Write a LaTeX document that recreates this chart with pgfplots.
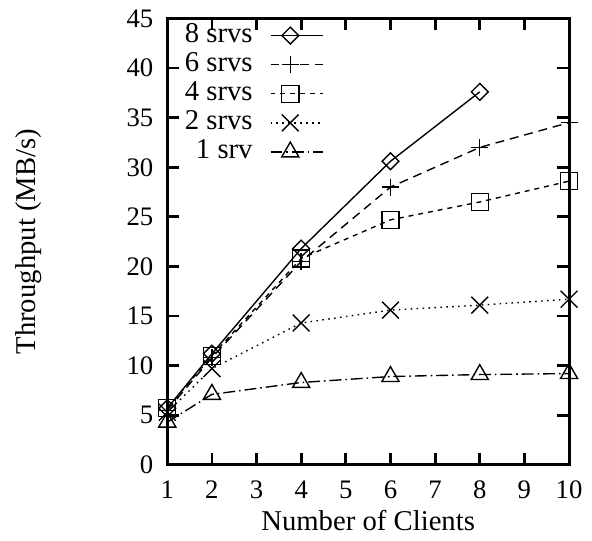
\documentclass[border=0pt]{standalone}
\usepackage{fontspec}
\setmainfont{Liberation Serif}
\usepackage{pgfplots}
\pgfplotsset{compat=1.18}
\begin{document}
\fontsize{14.5}{16}\selectfont
\begin{tikzpicture}
\begin{axis}[
    scale only axis,
    width=203pt, height=225.5pt,
    xmin=1, xmax=10, ymin=0, ymax=45,
    xtick={1,...,10}, ytick={0,5,...,45},
    tick align=inside,
    major tick length=6pt,
    axis line style={line width=1.5pt},
    tick style={line width=1.4pt, black},
    /pgf/number format/assume math mode=true,
    tick label style={font=\fontsize{13.5}{15}\selectfont},
    xticklabel style={yshift=-3pt},
    yticklabel style={xshift=-2pt},
    xlabel={Number of Clients},
    ylabel={Throughput (MB/s)},
    xlabel style={at={(axis description cs:0.5,0)}, anchor=center, yshift=-28pt},
    ylabel style={at={(axis description cs:-0.345,0.5)}, anchor=center},
    clip=false,
    every axis plot/.append style={line width=0.7pt, black},
    mark options={solid, line width=0.7pt},
    legend plot pos=right,
    legend cell align=right,
    legend style={draw=none, fill=none, at={(axis description cs:0.405,1.004)},
        anchor=north east, column sep=8pt,
        nodes={text height=10pt, text depth=3.3pt, inner sep=0.7pt}},
    legend image code/.code={
        \draw[mark repeat=2, mark phase=2] plot coordinates {(0pt,0pt) (10pt,0pt) (26.5pt,0pt)};
    },
]
% 8 srvs
\addplot[solid, mark=square, mark size=3pt, mark options={rotate=45}]
  coordinates {(1,5.7) (2,11.2) (4,21.8) (6,30.6) (8,37.6)};
\addlegendentry{8 srvs}
% 6 srvs
\addplot[dash pattern=on 4.5pt off 3pt, mark=+, mark size=4.3pt]
  coordinates {(1,5.5) (2,10.8) (4,20.5) (6,28.0) (8,32.0) (10,34.5)};
\addlegendentry{6 srvs}
% 4 srvs
\addplot[dash pattern=on 2.5pt off 2.5pt, mark=square, mark size=4.3pt]
  coordinates {(1,5.7) (2,11.0) (4,20.8) (6,24.7) (8,26.5) (10,28.6)};
\addlegendentry{4 srvs}
% 2 srvs
\addplot[dash pattern=on 0.8pt off 2.2pt, mark=x, mark size=6pt]
  coordinates {(1,5.3) (2,9.7) (4,14.3) (6,15.6) (8,16.1) (10,16.7)};
\addlegendentry{2 srvs}
% 1 srv
\addplot[dash pattern=on 6pt off 2pt on 0.8pt off 2pt, mark=triangle, mark size=5pt]
  coordinates {(1,4.3) (2,7.1) (4,8.3) (6,8.9) (8,9.1) (10,9.2)};
\addlegendentry{1 srv}
\end{axis}
\path (-84.5pt,-36pt) rectangle (211.5pt,231.5pt);
\end{tikzpicture}
\end{document}
